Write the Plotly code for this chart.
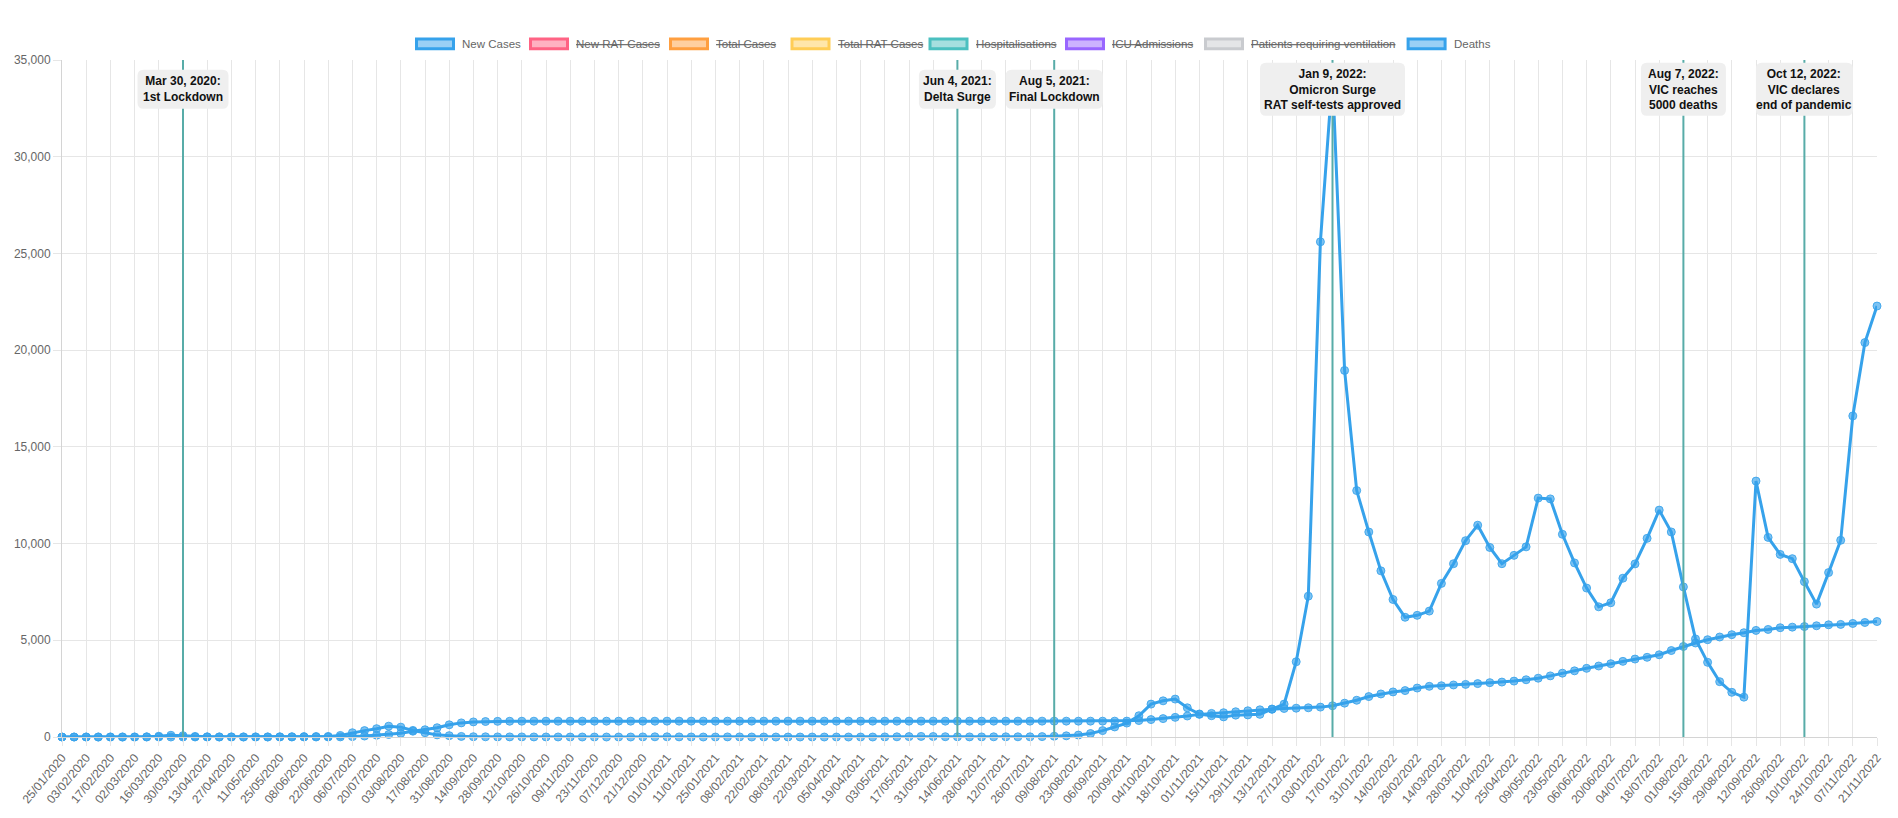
import plotly.graph_objects as go
from datetime import date, timedelta


def mondays(d0, d1):
    out = []
    d = d0
    while d <= d1:
        out.append(d.strftime("%d/%m/%Y"))
        d += timedelta(days=7)
    return out


# ---------------- categories ----------------
weeks = (["25/01/2020"] + mondays(date(2020, 1, 27), date(2020, 12, 28))
         + ["01/01/2021"] + mondays(date(2021, 1, 4), date(2021, 12, 27))
         + ["01/01/2022"] + mondays(date(2022, 1, 3), date(2022, 11, 21)))
tick_labels = weeks[::2]

# ---------------- series ----------------
new_cases = [
    0, 0, 0, 0, 0, 0, 0, 10, 40, 90,
    70, 30, 10, 5, 5, 5, 5, 5, 10, 15,
    20, 25, 30, 80, 220, 330, 430, 560, 510, 340,
    220, 110, 70, 30, 15, 10, 5, 5, 5, 3,
    2, 2, 0, 0, 0, 0, 0, 0, 5, 10,
    10, 5, 2, 0, 0, 5, 5, 0, 0, 0,
    0, 0, 0, 0, 0, 0, 0, 0, 5, 10,
    20, 30, 25, 15, 10, 5, 5, 10, 10, 10,
    10, 20, 40, 60, 100, 180, 330, 520, 720, 1100,
    1700, 1870, 1960, 1510, 1190, 1100, 1040, 1130, 1140, 1170,
    1440, 1700, 3890, 7280, 25600, 34200, 18950, 12740, 10600, 8590,
    7110, 6190, 6290, 6510, 7940, 8960, 10150, 10950, 9800, 8960,
    9390, 9830, 12350, 12310, 10480, 9000, 7700, 6730, 6940, 8210,
    8950, 10270, 11730, 10600, 7760, 5070, 3860, 2860, 2310, 2060,
    13230, 10320, 9440, 9220, 8030, 6870, 8500, 10170, 16600, 20390,
    22280,
]

deaths = [
    0, 0, 0, 0, 0, 0, 0, 0, 0, 0,
    0, 0, 0, 0, 0, 0, 0, 0, 0, 0,
    0, 0, 0, 5, 20, 50, 90, 130, 190, 300,
    375, 480, 630, 730, 780, 800, 810, 815, 817, 818,
    818, 818, 819, 819, 819, 819, 819, 819, 819, 819,
    820, 820, 820, 820, 820, 820, 820, 820, 820, 820,
    820, 820, 820, 820, 820, 820, 820, 820, 820, 820,
    820, 820, 820, 820, 820, 820, 820, 820, 820, 820,
    820, 820, 820, 820, 820, 820, 820, 820, 822, 850,
    900, 950, 1015, 1085, 1170, 1220, 1255, 1305, 1355, 1405,
    1440, 1475, 1490, 1510, 1545, 1615, 1750, 1900, 2090, 2225,
    2330, 2400, 2530, 2620, 2650, 2690, 2720, 2760, 2810, 2840,
    2890, 2960, 3040, 3160, 3300, 3420, 3550, 3670, 3790, 3910,
    4030, 4120, 4250, 4470, 4680, 4860, 5030, 5170, 5290, 5390,
    5510, 5560, 5650, 5680, 5710, 5750, 5800, 5820, 5870, 5920,
    5970,
]

# legend entries (name, colour, hidden)
legend_names = ["New Cases", "New RAT Cases", "Total Cases", "Total RAT Cases",
                "Hospitalisations", "ICU Admissions", "Patients requiring ventilation", "Deaths"]
legend_colors = ["54,162,235", "255,99,132", "255,159,64", "255,205,86",
                 "75,192,192", "153,102,255", "201,203,207", "54,162,235"]
legend_hidden = [False, True, True, True, True, True, True, False]

# event annotations
event_dates = ["30/03/2020", "14/06/2021", "09/08/2021", "10/01/2022", "01/08/2022", "10/10/2022"]
event_texts = ["Mar 30, 2020:<br>1st Lockdown",
               "Jun 4, 2021:<br>Delta Surge",
               "Aug 5, 2021:<br>Final Lockdown",
               "Jan 9, 2022:<br>Omicron Surge<br>RAT self-tests approved",
               "Aug 7, 2022:<br>VIC reaches<br>5000 deaths",
               "Oct 12, 2022:<br>VIC declares<br>end of pandemic"]

# ---------------- layout geometry (pixels) ----------------
W, H = 1898, 818
ML, MR, MT, MB = 62, 21, 60, 72
PW, PH = W - ML - MR, H - MT - MB


def px_x(px):
    return (px - ML) / PW


def px_y(py):
    return 1 - (py - MT) / PH


FONT = "Liberation Sans, Arial, Helvetica, sans-serif"
BLUE = "#36A2EB"

fig = go.Figure()
for name, vals in [("New Cases", new_cases), ("Deaths", deaths)]:
    fig.add_trace(go.Scatter(
        x=weeks, y=vals, name=name, mode="lines+markers",
        line=dict(color=BLUE, width=3),
        marker=dict(size=8, color="rgba(54,162,235,0.65)",
                    line=dict(color="rgba(54,162,235,0.85)", width=1)),
        cliponaxis=False, showlegend=False,
    ))

shapes = []
annotations = []

# event lines + labels
box_w = [91, 77, 97, 145, 85, 97]
for d, txt, bw in zip(event_dates, event_texts, box_w):
    idx = weeks.index(d)
    nlines = txt.count("<br>") + 1
    bh = 39 if nlines == 2 else 53
    shapes.append(dict(type="line", xref="x", yref="paper", x0=idx, x1=idx, y0=0, y1=1,
                       line=dict(color="rgb(88,172,168)", width=2), layer="above"))
    a, b, r = bw / 2, bh / 2, 6
    path = (f"M{-a + r},{-b} L{a - r},{-b} Q{a},{-b} {a},{-b + r} L{a},{b - r} Q{a},{b} {a - r},{b} "
            f"L{-a + r},{b} Q{-a},{b} {-a},{b - r} L{-a},{-b + r} Q{-a},{-b} {-a + r},{-b} Z")
    yc = px_y(89.6)
    shapes.append(dict(type="path", xref="x", yref="paper", xsizemode="pixel", ysizemode="pixel",
                       xanchor=idx, yanchor=yc, path=path, fillcolor="#efefef",
                       line=dict(width=0), layer="above"))
    annotations.append(dict(x=idx, y=yc, xref="x", yref="paper", text=txt, showarrow=False,
                            xanchor="center", yanchor="middle", align="center",
                            font=dict(family=FONT, size=12, color="#111", weight="bold")))

# custom legend
legend_left = [415, 529, 669, 790.5, 928.5, 1065, 1204, 1406.6]
ly = 43.6
for name, col, hid, lx in zip(legend_names, legend_colors, legend_hidden, legend_left):
    shapes.append(dict(type="rect", xref="paper", yref="paper",
                       x0=px_x(lx + 1.5), x1=px_x(lx + 38.5), y0=px_y(ly - 5), y1=px_y(ly + 5),
                       fillcolor=f"rgba({col},0.5)", line=dict(color=f"rgb({col})", width=3)))
    annotations.append(dict(x=px_x(lx + 45), y=px_y(ly), xref="paper", yref="paper",
                            text=(f"<s>{name}</s>" if hid else name), showarrow=False,
                            xanchor="left", yanchor="middle",
                            font=dict(family=FONT, size=11.5, color="#666")))

GRID = "#e6e6e6"
fig.update_layout(
    width=W, height=H,
    margin=dict(l=ML, r=MR, t=MT, b=MB),
    paper_bgcolor="white", plot_bgcolor="white",
    font=dict(family=FONT, size=12, color="#666"),
    showlegend=False,
    shapes=shapes, annotations=annotations,
    xaxis=dict(type="category", range=[0, len(weeks) - 1], tickmode="array",
               tickvals=tick_labels, ticktext=tick_labels, tickangle=-50,
               showgrid=True, gridcolor=GRID, gridwidth=1,
               ticks="outside", ticklen=8, tickcolor=GRID,
               showline=True, linecolor="#d4d4d4", linewidth=1,
               tickfont=dict(family=FONT, size=12, color="#666")),
    yaxis=dict(range=[0, 35000], dtick=5000, tickformat=",",
               showgrid=True, gridcolor=GRID, gridwidth=1, zeroline=False,
               ticks="outside", ticklen=8, tickcolor=GRID,
               showline=True, linecolor="#d4d4d4", linewidth=1,
               tickfont=dict(family=FONT, size=12, color="#666")),
)

fig.write_html("out.html", post_script="document.body.style.margin='0';")
